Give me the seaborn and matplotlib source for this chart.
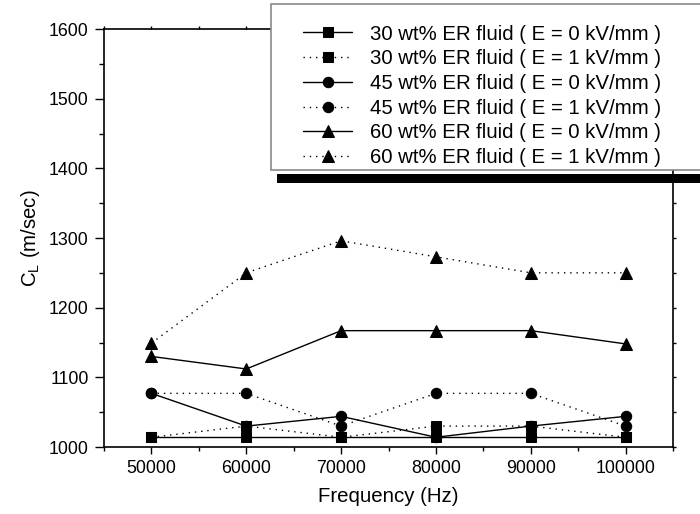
import matplotlib
matplotlib.use("Agg")
import matplotlib.pyplot as plt
from matplotlib.patches import Rectangle
from matplotlib.ticker import MultipleLocator
import numpy as np
import pandas as pd
import seaborn as sns

# ---- data ----
freq = [50000, 60000, 70000, 80000, 90000, 100000]
wt30_E0 = [1014, 1014, 1014, 1014, 1014, 1014]
wt30_E1 = [1014, 1030, 1014, 1030, 1030, 1014]
wt45_E0 = [1077, 1030, 1044, 1014, 1030, 1044]
wt45_E1 = [1077, 1077, 1030, 1077, 1077, 1030]
wt60_E0 = [1130, 1112, 1167, 1167, 1167, 1148]
wt60_E1 = [1149, 1250, 1296, 1273, 1250, 1250]

labels = [
    "30 wt% ER fluid ( E = 0 kV/mm )",
    "30 wt% ER fluid ( E = 1 kV/mm )",
    "45 wt% ER fluid ( E = 0 kV/mm )",
    "45 wt% ER fluid ( E = 1 kV/mm )",
    "60 wt% ER fluid ( E = 0 kV/mm )",
    "60 wt% ER fluid ( E = 1 kV/mm )",
]
series_values = [wt30_E0, wt30_E1, wt45_E0, wt45_E1, wt60_E0, wt60_E1]

sns.set_theme(style="ticks")
plt.rcParams["font.family"] = ["Liberation Sans", "DejaVu Sans"]
plt.rcParams["mathtext.default"] = "regular"

df = pd.concat(
    [pd.DataFrame({"freq": freq, "speed": v, "series": lab}) for lab, v in zip(labels, series_values)],
    ignore_index=True,
)

fig = plt.figure(figsize=(7.0, 5.14), dpi=100)
ax = fig.add_axes([104 / 700, 1 - 447 / 514, (673 - 104) / 700, (447 - 29) / 514])

markers = ["s", "s", "o", "o", "^", "^"]
msizes = [7.3, 7.3, 7.5, 7.5, 8.5, 8.5]
dotted = (1, 3.5)
styles = ["-", dotted, "-", dotted, "-", dotted]
zorders = [4, 4, 3, 3, 3, 3]

handles = {}
for lab, mk, ms, st, zo in zip(labels, markers, msizes, styles, zorders):
    sub = df[df["series"] == lab]
    sns.lineplot(data=sub, x="freq", y="speed", ax=ax, color="black",
                 marker=mk, markersize=ms, markeredgecolor="black",
                 markerfacecolor="black", linewidth=1.0, legend=False,
                 zorder=zo)
    line = ax.lines[-1]
    if st == "-":
        line.set_linestyle("-")
    else:
        line.set_dashes(st)
    handles[lab] = line

ax.set_xlim(45000, 105000)
ax.set_ylim(1000, 1600)
ax.xaxis.set_major_locator(MultipleLocator(10000))
ax.xaxis.set_minor_locator(MultipleLocator(5000))
ax.yaxis.set_major_locator(MultipleLocator(100))
ax.yaxis.set_minor_locator(MultipleLocator(50))
ax.set_xticks([50000, 60000, 70000, 80000, 90000, 100000])

for sp in ax.spines.values():
    sp.set_linewidth(1.2)
    sp.set_color("black")

ax.tick_params(axis="both", which="both", direction="out", top=True, right=True,
               labelsize=12.8, colors="black", width=1.0)
ax.tick_params(axis="y", which="major", length=6.5, pad=4.5)
ax.tick_params(axis="y", which="minor", length=3.4)
ax.tick_params(axis="x", which="major", length=5, pad=4.5)
ax.tick_params(axis="x", which="minor", length=3)

# small ticks on the right and top spines
for axis in (ax.xaxis, ax.yaxis):
    for t in axis.get_major_ticks() + axis.get_minor_ticks():
        t.tick2line.set_markersize(2.2)

ax.set_xlabel("Frequency (Hz)", fontsize=14.7, color="black", labelpad=7)
ax.set_ylabel("C$_{L}$ (m/sec)", fontsize=14.7, color="black", labelpad=5)

# legend box with a dark shadow (drawn above the axes)
shadow = Rectangle((277 / 700, 1 - 183 / 514), 0.7, (183 - 174) / 514,
                   transform=fig.transFigure, facecolor="black", edgecolor="none",
                   zorder=5)
frame = Rectangle((271 / 700, 1 - 170 / 514), 0.7, (170 - 4) / 514,
                  transform=fig.transFigure, facecolor="white", edgecolor="#8a8a8a",
                  linewidth=1.2, zorder=6)
fig.patches.extend([shadow, frame])

leg = fig.legend([handles[l] for l in labels], labels, loc="upper left",
                 bbox_to_anchor=(303 / 700, 1 - 24.5 / 514), frameon=False,
                 fontsize=14.7, borderpad=0, borderaxespad=0,
                 handlelength=2.4, handletextpad=0.9, labelspacing=0.28)
leg.set_zorder(7)
for t in leg.get_texts():
    t.set_color("black")

fig.savefig("out.png", dpi=100)
